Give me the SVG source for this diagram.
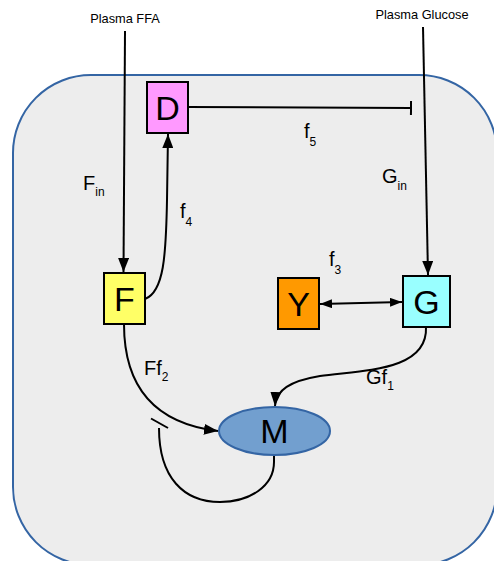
<svg xmlns="http://www.w3.org/2000/svg" width="494" height="561" viewBox="0 0 494 561">
<style>
.lbl{font-family:"Liberation Sans",Arial,sans-serif;fill:#000}
.node{stroke:#000;stroke-width:2}
.big{font-family:"Liberation Sans",Arial,sans-serif;font-size:34px;text-anchor:middle;fill:#000}
.edge{fill:none;stroke:#000;stroke-width:2}
.sm{font-family:"Liberation Sans",Arial,sans-serif;font-size:12.8px;text-anchor:middle;fill:#000}
</style>
<defs>
<marker id="arr" markerUnits="userSpaceOnUse" markerWidth="14" markerHeight="11" refX="14" refY="5.5" orient="auto">
<path d="M0,0 L14,5.5 L0,11 z" fill="#000"/>
</marker>
<marker id="arrS" markerUnits="userSpaceOnUse" markerWidth="12" markerHeight="9" refX="12" refY="4.5" orient="auto-start-reverse">
<path d="M0,0 L12,4.5 L0,9 z" fill="#000"/>
</marker>
<marker id="tbar" markerUnits="userSpaceOnUse" markerWidth="4" markerHeight="14" refX="2" refY="7" orient="auto">
<line x1="2" y1="0" x2="2" y2="14" stroke="#000" stroke-width="2"/>
</marker>
</defs>
<rect width="494" height="561" fill="#fff"/>
<g id="cell">
<rect x="13" y="75" width="484" height="490" rx="78" ry="78" fill="#ededed" stroke="#3465a4" stroke-width="2"/>
</g>
<g id="connectors">
<path class="edge" d="M125,31 L123.5,272" marker-end="url(#arr)"/>
<path class="edge" d="M423,27 L428,275" marker-end="url(#arr)"/>
<path class="edge" d="M188,107 L411,108" marker-end="url(#tbar)"/>
<path class="edge" d="M145,299 C164,292 166,255 167,200 L168,134" marker-end="url(#arr)"/>
<path class="edge" d="M320,304 L402,302" marker-start="url(#arrS)" marker-end="url(#arrS)"/>
<path class="edge" d="M426,327 C428,372 360,370 320,376 C290,381 276,390 275,406" marker-end="url(#arr)"/>
<path class="edge" d="M124,324 C124,392 160,424 218,431" marker-end="url(#arr)"/>
<path class="edge" d="M274,455 L274,462 C274,486 250,502 220,502 C184,502 159,478 159,428"/>
<line class="edge" x1="151" y1="418.5" x2="168" y2="428"/>
</g>
<g id="plasmaFFA"><text class="sm" x="125" y="23">Plasma FFA</text></g>
<g id="plasmaGlucose"><text class="sm" x="422" y="19">Plasma Glucose</text></g>
<g id="D">
<rect class="node" x="147" y="82" width="41" height="51" fill="#ff99ff"/>
<text class="big" x="167.5" y="120">D</text>
</g>
<g id="F">
<rect class="node" x="104" y="273" width="41" height="51" fill="#ffff66"/>
<text class="big" x="124.5" y="311">F</text>
</g>
<g id="Y">
<rect class="node" x="278" y="278" width="41" height="51" fill="#ff9900"/>
<text class="big" x="298.5" y="316">Y</text>
</g>
<g id="G">
<rect class="node" x="403" y="276" width="47" height="51" fill="#99ffff"/>
<text class="big" x="426.5" y="314">G</text>
</g>
<g id="M">
<ellipse cx="274.5" cy="431" rx="55.5" ry="24" fill="#729fcf" stroke="#3465a4" stroke-width="2"/>
<text class="big" x="274.5" y="443">M</text>
</g>
<g id="labels">
<text class="lbl" x="83" y="190" font-size="20">F<tspan font-size="12" dy="6">in</tspan></text>
<text class="lbl" x="180" y="218" font-size="20">f<tspan font-size="12" dy="8">4</tspan></text>
<text class="lbl" x="304" y="138" font-size="20">f<tspan font-size="12" dy="8">5</tspan></text>
<text class="lbl" x="382" y="183" font-size="20">G<tspan font-size="12" dy="7">in</tspan></text>
<text class="lbl" x="329" y="266" font-size="20">f<tspan font-size="12" dy="8">3</tspan></text>
<text class="lbl" x="144" y="375" font-size="20">Ff<tspan font-size="12" dy="6">2</tspan></text>
<text class="lbl" x="366" y="384" font-size="20">Gf<tspan font-size="12" dy="6">1</tspan></text>
</g>
</svg>
